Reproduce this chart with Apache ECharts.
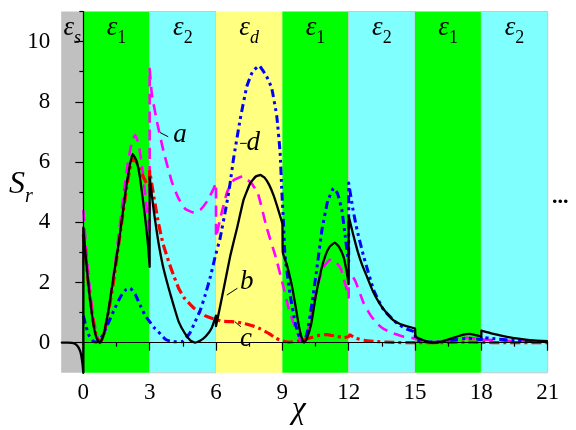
<!DOCTYPE html>
<html><head><meta charset="utf-8">
<script src="https://cdn.jsdelivr.net/npm/echarts@6/dist/echarts.min.js"></script>
<style>
html,body{margin:0;padding:0;background:#fff}
#c{width:576px;height:430px}
#fontwarm{position:absolute;left:0;top:0;opacity:0.01;pointer-events:none;font-size:20px;color:#fff}
</style>
</head><body>
<div id="fontwarm"><span style="font-family:'Liberation Serif'">εχS0123</span><span style="font-family:'Liberation Serif';font-style:italic">εχSabcd</span></div>
<div id="c"></div>
<script>
// ---- data ----
const xTicks = [0, 3, 6, 9, 12, 15, 18, 21];
const xMinorTicks = [1.5, 4.5, 7.5, 10.5, 13.5, 16.5, 19.5];
const yTicks = [0, 2, 4, 6, 8, 10];
const yMinorTicks = [1, 3, 5, 7, 9, 11];

const bandEdges = [-1, 0, 3, 6, 9, 12, 15, 18, 21];
const bandKinds = ['s', '1', '2', 'd', '1', '2', '1', '2'];

// curve a (magenta dashed)
const curveA = [
[0,4.4],[0.1,3.4],[0.25,2.1],[0.45,0.85],[0.62,0.22],[0.78,0],[0.95,0.25],[1.15,1.1],[1.45,2.7],[1.75,4.5],[2.0,5.9],[2.2,6.7],[2.35,6.9],[2.5,6.6],[2.65,5.9],[2.8,4.9],[2.95,3.9],[3,3.6],
[3,9.1],[3.1,8.25],[3.33,7.34],[3.63,6.35],[4.0,5.35],[4.3,4.8],[4.6,4.45],[5.0,4.32],[5.3,4.42],[5.6,4.7],[5.85,5.05],[6,5.3],
[6,3.5],[6.25,4.3],[6.5,5.0],[6.8,5.4],[7.2,5.52],[7.6,5.3],[7.9,4.95],[8.3,3.8],[8.7,2.85],[9.0,2.0],[9.3,1.1],[9.6,0.45],[9.8,0.12],[9.95,0],[10.1,0.2],[10.34,1.0],[10.6,1.9],[10.85,2.5],[11.15,2.75],[11.4,2.7],[11.65,2.45],[11.9,1.8],[12,1.5],
[12,2.4],[12.3,2.05],[12.68,1.31],[13.0,0.9],[13.28,0.64],[13.6,0.45],[14.03,0.31],[14.5,0.2],[15,0.14],[15.3,0.06],[15.7,0.02],[16.2,0.04],[16.8,0.12],[17.3,0.16],[17.8,0.13],[18,0.11],[18.5,0.09],[19.5,0.05],[21,0.03]
];
// curve b (black solid)
const curveB = [
[-1,0],[-0.7,0],[-0.5,-0.01],[-0.35,-0.05],[-0.2,-0.18],[-0.1,-0.4],[-0.03,-0.75],[0,-1],
[0,3.82],[0.08,3.1],[0.24,1.86],[0.45,0.64],[0.6,0.15],[0.75,0],[0.9,0.2],[1.14,1.09],[1.37,2.2],[1.6,3.3],[1.9,4.96],[2.08,5.8],[2.23,6.27],[2.4,6.05],[2.56,5.5],[2.79,4.19],[2.92,3.3],[3,2.52],
[3,5.5],[3.2,4.3],[3.39,3.36],[3.6,2.55],[3.86,1.81],[4.1,1.2],[4.31,0.7],[4.6,0.3],[4.85,0.07],[5.05,0],[5.3,0.07],[5.55,0.22],[5.8,0.48],[6,0.9],
[6,0.55],[6.2,1.25],[6.35,1.8],[6.65,2.9],[6.95,3.8],[7.25,4.75],[7.55,5.3],[7.8,5.52],[8.0,5.57],[8.2,5.48],[8.4,5.25],[8.6,4.9],[8.8,4.45],[9,3.95],
[9.02,3.0],[9.2,2.6],[9.43,1.9],[9.6,1.2],[9.75,0.55],[9.88,0.15],[9.98,0],[10.1,0.12],[10.3,0.6],[10.5,1.5],[10.75,2.4],[10.95,2.9],[11.15,3.2],[11.37,3.32],[11.55,3.2],[11.77,2.85],[11.9,2.4],[12,1.95],
[12,4.2],[12.2,3.6],[12.4,3.05],[12.6,2.6],[12.85,2.15],[13.1,1.7],[13.4,1.3],[13.7,1.0],[14.0,0.76],[14.3,0.63],[14.65,0.54],[15,0.47],
[15.02,0.2],[15.3,0.1],[15.6,0.03],[15.9,0.0],[16.3,0.06],[16.8,0.18],[17.2,0.27],[17.45,0.29],[17.7,0.26],[18,0.2],
[18,0.4],[18.5,0.3],[19,0.22],[19.5,0.15],[20,0.1],[20.5,0.07],[21,0.05]
];
// curve c (red dash-dot)
const curveC = [
[0,3.6],[0.1,2.9],[0.25,1.8],[0.45,0.7],[0.6,0.2],[0.75,0],[0.9,0.2],[1.14,1.0],[1.4,2.2],[1.7,3.8],[1.95,5.1],[2.1,5.75],[2.25,6.1],[2.4,6.0],[2.55,5.75],[2.75,5.45],[2.95,5.2],[3,5.2],
[3,5.7],[3.2,4.8],[3.39,4.0],[3.6,3.3],[3.86,2.69],[4.1,2.2],[4.31,1.81],[4.55,1.5],[4.76,1.33],[5.0,1.15],[5.21,1.03],[5.5,0.9],[5.81,0.81],[6,0.77],[6.3,0.71],[6.7,0.7],[7.0,0.68],[7.3,0.63],[7.7,0.55],[8.0,0.46],[8.4,0.3],[8.7,0.15],[9.0,0.06],[9.3,0.02],[9.7,0.05],[10.2,0.15],[10.7,0.25],[11.0,0.27],[11.4,0.22],[11.8,0.17],[12,0.2],[12.05,0.26],[12.3,0.15],[12.7,0.08],[13.2,0.04],[14,0.01],[15,0],[16,0],[17.3,0.02],[18,0.01],[19,0],[21,0]
];
// curve d (blue dash-dot-dot)
const curveD = [
[0,0.9],[0.1,0.6],[0.25,0.25],[0.45,0.05],[0.6,0.02],[0.8,0.15],[1.1,0.6],[1.4,1.1],[1.7,1.55],[1.95,1.78],[2.12,1.81],[2.35,1.6],[2.6,1.2],[2.8,0.9],[3,0.7],
[3.2,0.5],[3.39,0.37],[3.7,0.12],[4.0,0.03],[4.45,0.03],[4.8,0.3],[5.06,0.7],[5.3,1.1],[5.51,1.58],[5.75,2.2],[5.96,2.85],[6.18,3.45],[6.48,4.6],[6.64,5.3],[6.79,6.1],[7.09,7.4],[7.39,8.5],[7.65,9.0],[7.95,9.2],[8.29,8.84],[8.52,8.45],[8.75,7.51],[8.9,6.3],[8.97,5.13],[9.05,4.0],[9.12,2.9],[9.35,1.6],[9.6,0.6],[9.8,0.15],[9.95,0.05],[10.1,0.25],[10.34,1.31],[10.55,2.4],[10.79,3.74],[11.05,4.7],[11.32,5.13],[11.5,4.95],[11.69,4.41],[11.85,3.5],[11.95,2.9],[12,2.7],
[12,5.3],[12.2,4.4],[12.38,3.74],[12.68,2.86],[13.13,1.75],[13.58,1.09],[14.19,0.64],[14.63,0.45],[15,0.35],[15.02,0.1],[15.5,0.03],[16,0.02],[16.8,0.1],[17.3,0.15],[17.8,0.12],[18,0.1],[18,0.18],[18.5,0.14],[19.5,0.07],[21,0.03]
];

const curveNames = ['a', 'b', 'c', 'd'];
// annotation anchors (data coords): label, leader start, leader end
const annotText = [[4.37, 6.9], [7.39, 2.03], [7.36, 0.12], [7.69, 6.62]];
const annotLeadFrom = [[3.47, 6.98], [6.49, 1.58], [6.85, 0.7], [7.09, 6.62]];
const annotLeadTo = [[3.84, 6.84], [6.97, 1.81], [7.12, 0.53], [7.39, 6.62]];

// ---- chart ----
const serif = 'Liberation Serif';
const bandColor = { s: '#c0c0c0', '1': '#00ff00', '2': '#80ffff', d: '#ffff80' };
const bandBorder = { s: 'transparent', '1': 'transparent', '2': '#c8c8c8', d: 'transparent' };

const markData = bandKinds.map((k, i) => {
  const subStyle = (k === 's' || k === 'd') ? 'ns' : 'n';
  return [
    {
      xAxis: bandEdges[i],
      itemStyle: { color: bandColor[k], borderColor: bandBorder[k], borderWidth: 1, opacity: 1 },
      label: { formatter: '{e|ε}{' + subStyle + '|' + k + '}' }
    },
    { xAxis: bandEdges[i + 1] }
  ];
});

function lineSeries(name, data, color, width, dash, z) {
  return {
    name, type: 'line', data, symbol: 'none', showSymbol: false, smooth: 0.12,
    xAxisIndex: 0, yAxisIndex: 0, z, animation: false, silent: true,
    lineStyle: { color, width, type: dash, cap: 'butt', join: 'round' }
  };
}

function buildOption() {
  return {
    animation: false,
    backgroundColor: '#ffffff',
    textStyle: { fontFamily: serif },
    grid: { left: 61.2, right: 28.3, top: 11.5, bottom: 57.2, containLabel: false },
    xAxis: [
      {
        type: 'value', min: -1, max: 21, interval: 1, z: 10,
        axisLine: { show: true, lineStyle: { color: '#000', width: 1.2 } },
        axisTick: { show: true, length: 8, inside: false, customValues: xTicks, lineStyle: { color: '#000', width: 1.2 } },
        axisLabel: {
          show: true, fontFamily: serif, fontSize: 23, color: '#000', margin: 9,
          formatter: v => (xTicks.indexOf(v) >= 0 ? String(v) : '')
        },
        splitLine: { show: false }
      },
      {
        type: 'value', min: -1, max: 21, z: 10, position: 'bottom', gridIndex: 0,
        axisLine: { show: false },
        axisTick: { show: true, length: 4, customValues: xMinorTicks, lineStyle: { color: '#000', width: 1.2 } },
        axisLabel: { show: false },
        splitLine: { show: false }
      }
    ],
    yAxis: [
      {
        type: 'value', min: -1, max: 11, interval: 1, z: 10,
        axisLine: { show: true, lineStyle: { color: '#000', width: 1.2 } },
        axisTick: { show: true, length: 8, customValues: yTicks, lineStyle: { color: '#000', width: 1.2 } },
        axisLabel: {
          show: true, fontFamily: serif, fontSize: 23, color: '#000', margin: 11,
          formatter: v => (yTicks.indexOf(v) >= 0 ? String(v) : '')
        },
        splitLine: { show: false }
      },
      {
        type: 'value', min: -1, max: 11, z: 10, position: 'left', gridIndex: 0,
        axisLine: { show: false },
        axisTick: { show: true, length: 4, customValues: yMinorTicks, lineStyle: { color: '#000', width: 1.2 } },
        axisLabel: { show: false },
        splitLine: { show: false }
      }
    ],
    series: [
      {
        name: 'bands', type: 'line', data: [], z: 1, silent: true,
        markArea: {
          silent: true,
          label: {
            show: true, position: 'insideTop', distance: 3, color: '#000',
            rich: {
              e: { fontFamily: serif, fontStyle: 'italic', fontSize: 27, color: '#000', padding: [0, 0, 6, 0], verticalAlign: 'bottom' },
              n: { fontFamily: serif, fontSize: 18, color: '#000', verticalAlign: 'bottom' },
              ns: { fontFamily: serif, fontStyle: 'italic', fontSize: 18, color: '#000', verticalAlign: 'bottom' }
            }
          },
          data: markData
        }
      },
      lineSeries(curveNames[0], curveA, '#ff00ff', 2.6, [11, 7], 3),
      lineSeries(curveNames[2], curveC, '#ff0000', 3.2, [10, 4, 3, 4], 4),
      lineSeries(curveNames[3], curveD, '#0000ff', 3, [8, 4, 3, 4, 3, 4], 5),
      lineSeries(curveNames[1], curveB, '#000000', 2.3, 'solid', 6)
    ]
  };
}

function richText(txt, size, italic) {
  return {
    text: '{t|' + txt + '}',
    rich: { t: { fontFamily: serif, fontStyle: italic ? 'italic' : 'normal', fontSize: size, color: '#000', fill: '#000' } }
  };
}

let chart = null;
function render() {
  if (chart) chart.dispose();
  chart = echarts.init(document.getElementById('c'), null, { renderer: 'canvas' });
  chart.setOption(buildOption());
  const px = p => chart.convertToPixel({ gridIndex: 0 }, p);
  const graphics = [];
  curveNames.forEach((nm, i) => {
    const t = px(annotText[i]);
    const f = px(annotLeadFrom[i]);
    const to = px(annotLeadTo[i]);
    const st = richText(nm, 27, true);
    st.align = 'center'; st.verticalAlign = 'middle';
    graphics.push({ type: 'text', x: t[0], y: t[1], z: 20, style: st });
    graphics.push({
      type: 'line', z: 20, shape: { x1: f[0], y1: f[1], x2: to[0], y2: to[1] },
      style: { stroke: '#000', lineWidth: 1 }
    });
  });
  graphics.push({
    type: 'text', left: 9, top: 169, z: 20,
    style: {
      text: '{s|S}{r|r}',
      rich: {
        s: { fontFamily: serif, fontStyle: 'italic', fontSize: 32, color: '#000', padding: [0, 0, 6, 0], verticalAlign: 'bottom' },
        r: { fontFamily: serif, fontStyle: 'italic', fontSize: 20, color: '#000', verticalAlign: 'bottom' }
      }
    }
  });
  graphics.push({ type: 'text', left: 292, top: 394, z: 20, style: richText('χ', 31, true) });
  const dots = richText('...', 22, false);
  dots.rich.t.fontWeight = 'bold';
  graphics.push({ type: 'text', left: 552, top: 186, z: 20, style: dots });
  chart.setOption({ graphic: graphics });
}

document.getElementById('fontwarm').offsetWidth;
render();
if (document.fonts && document.fonts.load) {
  Promise.all([
    document.fonts.load('22px "Liberation Serif"', 'εχ0123'),
    document.fonts.load('italic 22px "Liberation Serif"', 'εχSabcd'),
    document.fonts.ready
  ]).then(render, render);
}
</script>
</body></html>
